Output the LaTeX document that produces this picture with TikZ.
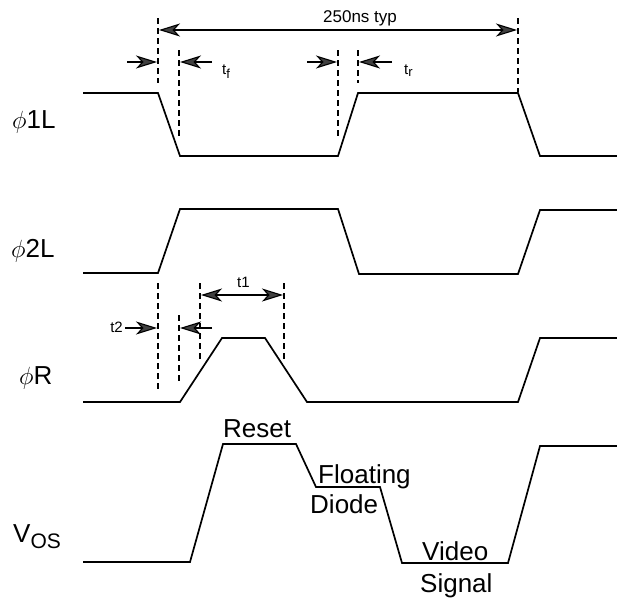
\documentclass[tikz,border=0pt]{standalone}
\usepackage{fontspec}
\setmainfont{Liberation Sans}
\usetikzlibrary{arrows.meta, calc}

\tikzset{
	wave/.style = {line width=1.7pt, line join=miter},
	guide/.style = {line width=1.6pt, dash pattern=on 6pt off 4pt},
	markarrow/.style = {line width=1.1pt, -{Stealth[length=21pt, width=13pt, inset=6pt, fill=black!75]}},
	markspan/.style = {line width=1.1pt, {Stealth[length=21pt, width=13pt, inset=6pt, fill=black!75]}-{Stealth[length=21pt, width=13pt, inset=6pt, fill=black!75]}},
	siglabel/.style = {anchor=base west, inner sep=0pt, font=\fontsize{26}{30}\selectfont},
	note/.style = {anchor=base west, inner sep=0pt, font=\fontsize{26}{30}\selectfont},
	tlabel/.style = {inner sep=0pt, font=\fontsize{15}{18}\selectfont}
}

\begin{document}
\begin{tikzpicture} [x = 1pt, y = -1pt]

	\useasboundingbox (0, 0) rectangle (617, 597);

		% Define coordinates.

	%guide tops and bottoms (timing marks)
	\coordinate (fallA) at (158, 18);
	\coordinate (fallAend) at (158, 83);
	\coordinate (fallB) at (179, 50);
	\coordinate (fallBend) at (179, 138);
	\coordinate (riseA) at (338, 50);
	\coordinate (riseAend) at (338, 138);
	\coordinate (riseB) at (358, 50);
	\coordinate (riseBend) at (358, 83);
	\coordinate (period) at (518, 18);
	\coordinate (periodEnd) at (518, 92);

	\coordinate (resetA) at (158, 283);
	\coordinate (resetAend) at (158, 392);
	\coordinate (resetB) at (179, 315);
	\coordinate (resetBend) at (179, 382);
	\coordinate (pulseA) at (200, 283);
	\coordinate (pulseAend) at (200, 360);
	\coordinate (pulseB) at (284, 283);
	\coordinate (pulseBend) at (284, 362);

	%arrow ends
	\coordinate (periodL) at (159, 30);
	\coordinate (periodR) at (517, 30);
	\coordinate (tfL) at (127, 62);
	\coordinate (tfLtip) at (157, 62);
	\coordinate (tfR) at (212, 62);
	\coordinate (tfRtip) at (180, 62);
	\coordinate (trL) at (307, 62);
	\coordinate (trLtip) at (337, 62);
	\coordinate (trR) at (392, 62);
	\coordinate (trRtip) at (359, 62);
	\coordinate (tOneL) at (201, 295);
	\coordinate (tOneR) at (283, 295);
	\coordinate (tTwoL) at (125, 328);
	\coordinate (tTwoLtip) at (157, 328);
	\coordinate (tTwoR) at (212, 328);
	\coordinate (tTwoRtip) at (180, 328);

% Draw waveforms.

	%phi1L
	\draw[wave] (83, 93) -- (158, 93) -- (180, 156) -- (338, 156) -- (358, 93)
		-- (518, 93) -- (540, 156) -- (617, 156);
	%phi2L
	\draw[wave] (83, 273) -- (158, 273) -- (180, 209) -- (338, 209) -- (359, 274)
		-- (518, 274) -- (540, 210) -- (617, 210);
	%phiR
	\draw[wave] (83, 402) -- (180, 402) -- (222, 338) -- (265, 338) -- (307, 402)
		-- (518, 402) -- (540, 338) -- (617, 338);
	%Vos
	\draw[wave] (83, 562) -- (190, 562) -- (223, 444) -- (296, 444) -- (316, 487)
		-- (380, 487) -- (402, 563) -- (508, 563) -- (540, 446) -- (617, 446);

% Draw timing marks.

	\draw[guide] (fallA) -- (fallAend);
	\draw[guide] (fallB) -- (fallBend);
	\draw[guide] (riseA) -- (riseAend);
	\draw[guide] (riseB) -- (riseBend);
	\draw[guide] (period) -- (periodEnd);

	\draw[guide] (resetA) -- (resetAend);
	\draw[guide] (resetB) -- (resetBend);
	\draw[guide] (pulseA) -- (pulseAend);
	\draw[guide] (pulseB) -- (pulseBend);

% Draw label arrows.

	\draw[markspan] (periodL) -- (periodR);
	\draw[markarrow] (tfL) -- (tfLtip);
	\draw[markarrow] (tfR) -- (tfRtip);
	\draw[markarrow] (trL) -- (trLtip);
	\draw[markarrow] (trR) -- (trRtip);
	\draw[markspan] (tOneL) -- (tOneR);
	\draw[markarrow] (tTwoL) -- (tTwoLtip);
	\draw[markarrow] (tTwoR) -- (tTwoRtip);

% Labels.

	\node[tlabel, anchor=base, font=\fontsize{17}{20}\selectfont] (periodText) at (360, 22) {250ns typ};
	\node[tlabel, anchor=base west] (tfText) at (222, 74) {t\textsubscript{\fontsize{13}{15}\selectfont f}};
	\node[tlabel, anchor=base west] (trText) at (404, 74) {t\textsubscript{\fontsize{13}{15}\selectfont r}};
	\node[tlabel, anchor=base west] (tOneText) at (237, 287) {t1};
	\node[tlabel, anchor=base east] (tTwoText) at (123, 332) {t2};

	\node[siglabel] (phiOne) at (12, 128) {$\phi$1L};
	\node[siglabel] (phiTwo) at (11, 257) {$\phi$2L};
	\node[siglabel] (phiR) at (19, 384) {$\phi$R};
	\node[note] (vos) at (13, 542) {V\raisebox{-6pt}{\fontsize{21}{24}\selectfont OS}};

	\node[note] (reset) at (223, 437) {Reset};
	\node[note] (floating) at (318, 483) {Floating};
	\node[note] (diode) at (310, 513) {Diode};
	\node[note] (video) at (422, 560) {Video};
	\node[note] (signal) at (420, 592) {Signal};

\end{tikzpicture}
\end{document}
